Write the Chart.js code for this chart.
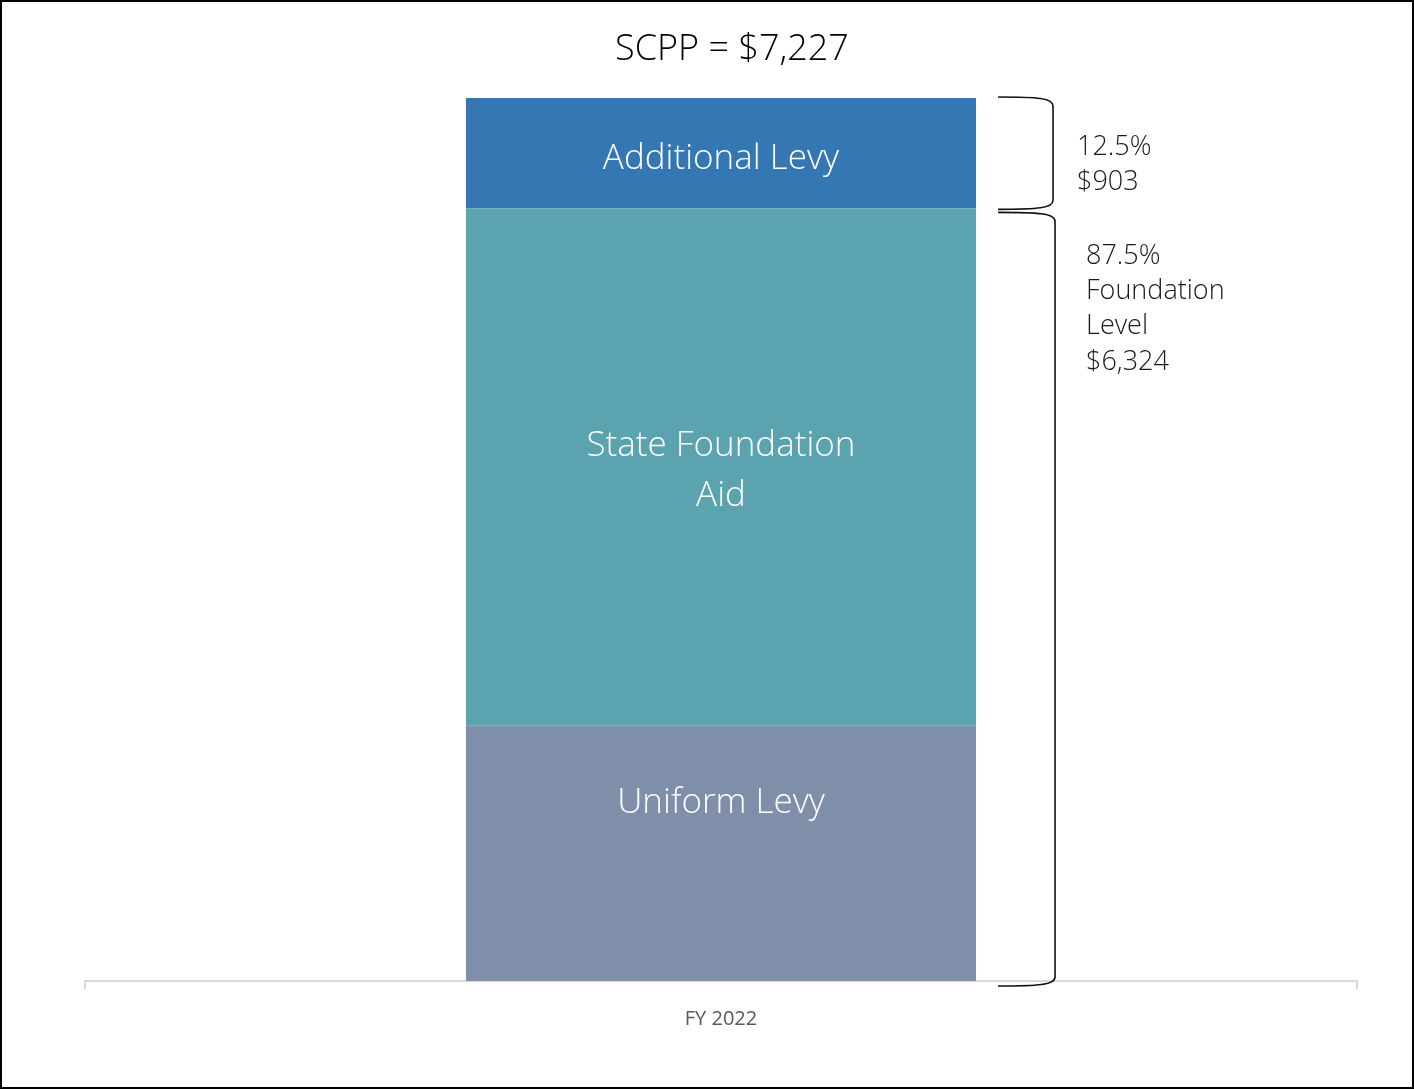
<!DOCTYPE html>
<html>
<head>
<meta charset="utf-8">
<script src="https://cdn.jsdelivr.net/npm/chart.js@4.4.1/dist/chart.umd.min.js"></script>
<style>
  html, body { margin: 0; padding: 0; background: #fff; }
  #wrap { width: 1414px; height: 1089px; position: relative; }
  canvas { display: block; }
</style>
</head>
<body>
<div id="wrap"><canvas id="c" width="1414" height="1089"></canvas></div>
<script>
// Per-pupil funding components, stacked bottom to top
const categories = ['FY 2022'];
const seriesNames = ['Uniform Levy', 'State Foundation Aid', 'Additional Levy'];
const uniformLevy = [2090];
const stateFoundationAid = [4234];
const additionalLevy = [903];

const foundationLevel = uniformLevy[0] + stateFoundationAid[0];   // 6,324
const scppTotal = foundationLevel + additionalLevy[0];            // 7,227

const fmt = v => '$' + v.toLocaleString('en-US');
const pct = v => (v / scppTotal * 100).toFixed(1) + '%';

const FONT = '"Open Sans", "Segoe UI", "DejaVu Sans", sans-serif';

// In-bar labels: text lines and vertical nudge per dataset
const barLabels = [
  { lines: ['Uniform Levy'], dy: -50 },
  { lines: ['State Foundation', 'Aid'], dy: 4.5 },
  { lines: ['Additional Levy'], dy: 5.5 }
];

const drawings = {
  id: 'drawings',
  afterDraw(chart) {
    const ctx = chart.ctx;
    const y = chart.scales.y;
    const barMeta = chart.getDatasetMeta(2).data[0];
    const barCx = barMeta.x;
    const barRight = barMeta.x + barMeta.width / 2;

    ctx.save();
    // outer frame
    ctx.strokeStyle = '#000';
    ctx.lineWidth = 2;
    ctx.strokeRect(1, 1, 1412, 1087);

    // title
    ctx.fillStyle = '#000';
    ctx.font = '300 36px ' + FONT;
    ctx.textAlign = 'center';
    ctx.textBaseline = 'middle';
    ctx.fillText('SCPP = ' + fmt(scppTotal), barCx + 11, 50);

    // labels inside bar segments
    ctx.fillStyle = '#fff';
    ctx.font = '300 35px ' + FONT;
    chart.data.datasets.forEach((ds, i) => {
      const el = chart.getDatasetMeta(i).data[0];
      const cy = (el.y + el.base) / 2 + barLabels[i].dy;
      const lines = barLabels[i].lines;
      const lh = 50;
      lines.forEach((t, k) => {
        ctx.fillText(t, el.x, cy + (k - (lines.length - 1) / 2) * lh);
      });
    });

    // brackets on the right
    const brace = (top, bot, x0, x1) => {
      ctx.beginPath();
      ctx.moveTo(x0, top);
      ctx.bezierCurveTo(x0 + 40, top, x1, top + 1, x1, top + 9);
      ctx.lineTo(x1, bot - 9);
      ctx.bezierCurveTo(x1, bot - 1, x0 + 40, bot, x0, bot);
      ctx.stroke();
    };
    ctx.strokeStyle = '#111';
    ctx.lineWidth = 1.6;
    const yTop = y.getPixelForValue(scppTotal);
    const yMid = y.getPixelForValue(foundationLevel);
    const yBot = y.getPixelForValue(0);
    brace(yTop - 1, yMid + 1, barRight + 22, barRight + 77);
    brace(yMid + 4, yBot + 5, barRight + 22, barRight + 79);

    // bracket annotations
    ctx.fillStyle = '#1a1a1a';
    ctx.font = '300 27px ' + FONT;
    ctx.textAlign = 'left';
    const top1 = [pct(additionalLevy[0]), fmt(additionalLevy[0])];
    top1.forEach((t, k) => ctx.fillText(t, barRight + 101, 147 + k * 35));
    const top2 = [pct(foundationLevel), 'Foundation', 'Level', fmt(foundationLevel)];
    top2.forEach((t, k) => ctx.fillText(t, barRight + 110, 256 + k * 35.3));
    ctx.restore();
  }
};

new Chart(document.getElementById('c'), {
  type: 'bar',
  data: {
    labels: categories,
    datasets: [
      { label: seriesNames[0], data: uniformLevy, backgroundColor: '#7F8EA9' },
      { label: seriesNames[1], data: stateFoundationAid, backgroundColor: '#5BA3AF' },
      { label: seriesNames[2], data: additionalLevy, backgroundColor: '#3577B3' }
    ]
  },
  options: {
    responsive: false,
    animation: false,
    layout: { padding: { left: 85, right: 57, top: 98, bottom: 40 } },
    datasets: { bar: { categoryPercentage: 1, barPercentage: 0.401, borderWidth: 0 } },
    plugins: {
      legend: { display: false },
      title: { display: false },
      tooltip: { enabled: false }
    },
    scales: {
      x: {
        stacked: true,
        grid: { drawOnChartArea: false, drawTicks: true, tickLength: 8, color: '#d9d9d9', lineWidth: 2 },
        border: { display: true, color: '#d9d9d9', width: 2 },
        ticks: { color: '#595959', font: { family: FONT, size: 20 }, padding: 18 }
      },
      y: {
        stacked: true,
        display: false,
        min: 0,
        max: scppTotal
      }
    }
  },
  plugins: [drawings]
});
</script>
</body>
</html>
